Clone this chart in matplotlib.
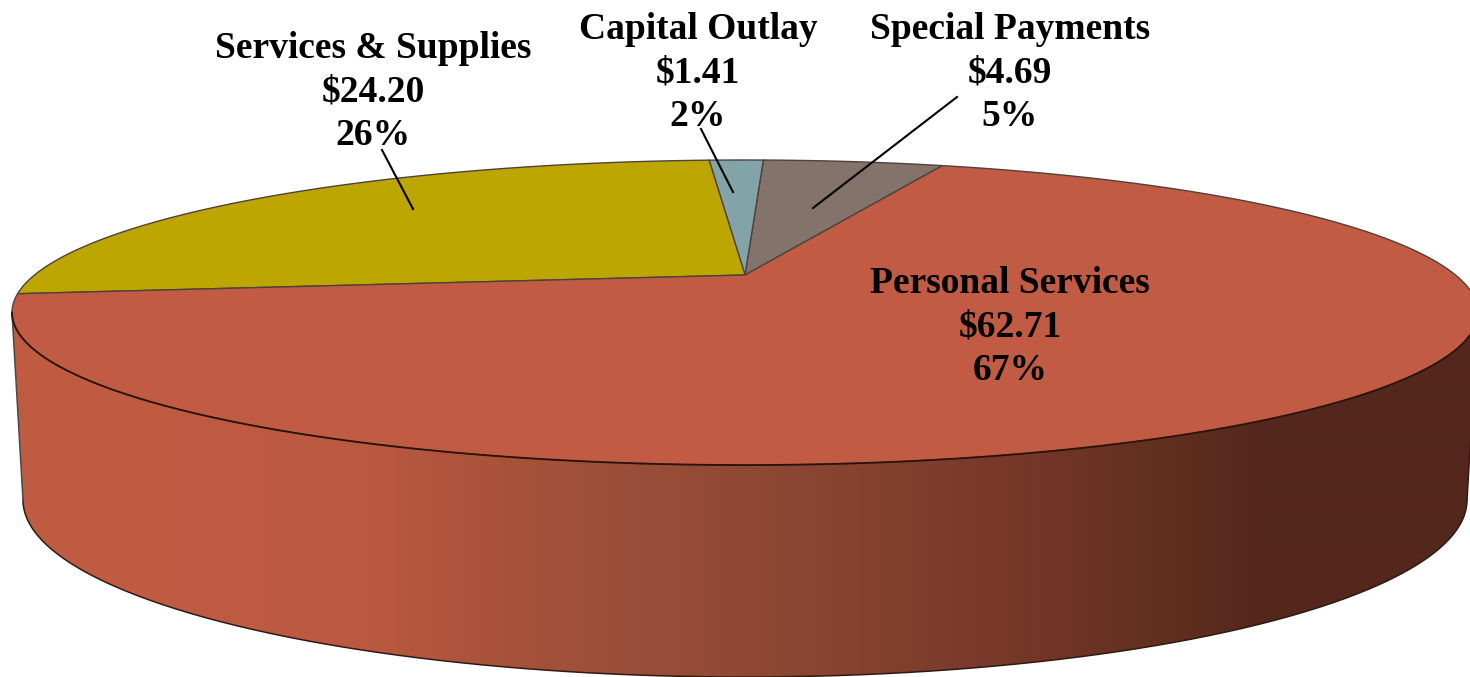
import numpy as np
import matplotlib
matplotlib.use("Agg")
import matplotlib.pyplot as plt
from matplotlib.patches import Polygon
from matplotlib.colors import to_rgb

names = ["Special Payments", "Capital Outlay", "Services & Supplies", "Personal Services"]
values = [4.69, 1.41, 24.20, 62.71]
percents = [5, 2, 26, 67]
colors = ["#83736A", "#82A3A8", "#BDA600", "#C15B43"]

# where the labels sit, in pixels
label_x = [1010, 698, 373, 1010]
label_y = [73, 73, 92, 327]

# leader lines for the three small slices
leaders = [((957, 97), (813, 208)), ((701, 129), (733, 192)), ((382, 150), (413, 209))]

# side wall shading, left to right
shade_x = [0, 350, 500, 640, 800, 1000, 1150, 1260, 1470]
shade_c = ["#C05C42", "#BC5A41", "#A9523A", "#9A4E39", "#8A4632", "#78382A", "#64301F", "#54271C", "#54271C"]

start = 70.0
cx, cy = 745, 275
k = 0.246
b = 143.3
a = 733 * np.sqrt(1 - k ** 2)


def project(deg):
    t = np.radians(deg)
    u, v = np.cos(t), np.sin(t)
    w = 1 + k * v
    return cx + a * u / w, cy - b * v / w


fig = plt.figure(figsize=(14.7, 6.77), dpi=100)
ax = fig.add_axes([0, 0, 1, 1])
ax.set_xlim(0, 1470)
ax.set_ylim(677, 0)
ax.axis("off")

# side wall between the front of the top and the front of the lower ellipse
# top face is widest where sin(angle) = -k
tan_pt = np.arcsin(k)
th = np.linspace(np.pi + tan_pt, 2 * np.pi - tan_pt, 300)
top_x, top_y = project(np.degrees(th))
th2 = np.linspace(np.pi, 2 * np.pi, 300)
low_x = 745 + 722 * np.cos(th2)
low_y = 500 - 177 * np.sin(th2)
wall = np.vstack([np.column_stack([top_x, top_y]), np.column_stack([low_x, low_y])[::-1]])
wall_patch = Polygon(wall, closed=True, fc="none", ec="none", transform=ax.transData)
ax.add_patch(wall_patch)

xs = np.arange(0, 1470)
rgb = np.array([to_rgb(c) for c in shade_c])
grad = np.stack([np.interp(xs, shade_x, rgb[:, i]) for i in range(3)], axis=1)[None, :, :]
im = ax.imshow(grad, extent=[0, 1470, 677, 0], aspect="auto", zorder=1, interpolation="bilinear")
im.set_clip_path(wall_patch)
ax.set_xlim(0, 1470)
ax.set_ylim(677, 0)

ax.plot(low_x, low_y, color="#2E1A14", lw=1.1, zorder=2)
ax.plot([top_x[0], low_x[0]], [top_y[0], low_y[0]], color="#4A4A4A", lw=1.1, zorder=2)
ax.plot([top_x[-1], low_x[-1]], [top_y[-1], low_y[-1]], color="#2E1A14", lw=1.1, zorder=2)

# top face slices
total = sum(values)
ang = start
for val, col in zip(values, colors):
    sweep = val / total * 360
    px, py = project(np.linspace(ang, ang + sweep, 400))
    ax.fill(np.r_[cx, px], np.r_[cy, py], fc=col, ec="#4F4238", lw=1.0, zorder=3, joinstyle="round")
    ang += sweep

# darker front rim on top of the wall
ax.plot(top_x, top_y, color="#2A130C", lw=1.3, zorder=4)

for (p0, p1) in leaders:
    ax.plot([p0[0], p1[0]], [p0[1], p1[1]], color="black", lw=1.5, zorder=5)

for name, val, pct, x, y in zip(names, values, percents, label_x, label_y):
    ax.text(x, y, f"{name}\n${val:.2f}\n{pct}%", ha="center", va="center", family="Liberation Serif",
            fontweight="bold", fontsize=27, linespacing=1.3, color="black", zorder=6)

fig.savefig("out.png", dpi=100)
